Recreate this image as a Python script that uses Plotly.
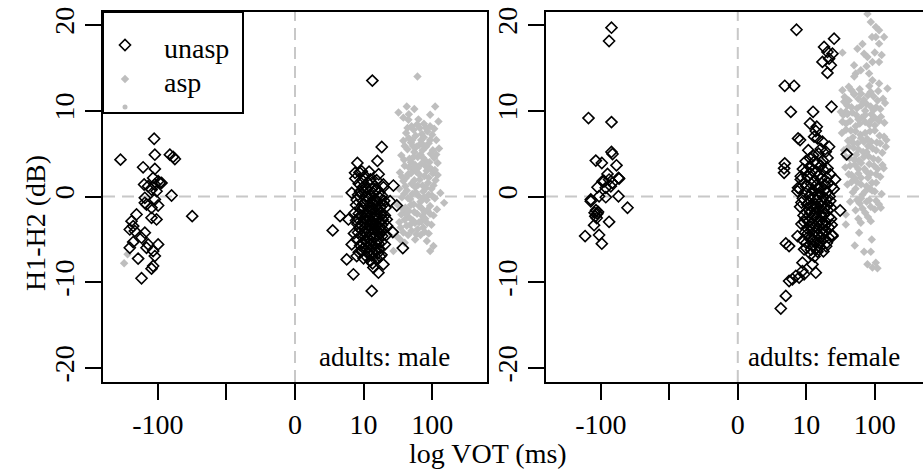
import numpy as np
import plotly.graph_objects as go

# ---------------- data (signed log10 VOT in ms, H1-H2 in dB) ----------------
male_unasp = [
    # prevoiced
    (-2.054, 6.74), (-2.545, 4.30), (-2.044, 4.88), (-1.825, 4.88), (-1.777, 4.62), (-1.752, 4.38),
    (-2.215, 3.41), (-2.044, 3.22), (-2.069, 2.17), (-1.996, 1.78), (-1.946, 1.59), (-2.044, 1.40),
    (-2.142, 1.20), (-2.200, 1.40), (-2.092, 0.81), (-2.019, 0.62), (-1.800, 0.12), (-2.190, -0.15),
    (-2.044, -0.35), (-2.165, -0.93), (-1.996, -1.05), (-2.092, -1.31), (-2.311, -2.09), (-2.092, -2.48),
    (-2.019, -2.67), (-1.499, -2.29), (-2.384, -2.87), (-2.360, -3.45), (-2.409, -3.84), (-2.336, -4.03),
    (-2.190, -4.22), (-2.238, -4.80), (-2.360, -5.31), (-2.142, -5.58), (-1.996, -5.58), (-2.409, -5.97),
    (-2.165, -5.97), (-2.069, -6.36), (-2.044, -6.94), (-2.288, -7.24), (-2.069, -8.10), (-2.092, -8.41),
    (-2.238, -9.53), (-1.971, 1.59), (-2.190, -0.73),
    # short lag
    (1.128, 13.52), (1.265, 5.78), (1.202, 4.15), (0.910, 3.92), (0.876, 2.76), (0.973, 2.94),
    (0.657, -2.29), (0.550, -3.95), (1.289, 1.40), (1.435, 1.28), (1.484, -1.05), (1.426, -4.15),
    (1.572, -6.01), (0.754, -7.33), (0.852, -9.07), (1.119, -11.01), (1.217, -8.88), (1.289, -7.91),
    (1.143, -8.29), (0.900, -6.94), (0.827, -5.58), (0.779, -2.67), (0.827, 0.43), (1.338, -2.67),
    (1.387, -0.54),
    (0.88, 2.1), (0.93, 1.5), (1.02, 2.4), (1.10, 2.0), (1.16, 1.2), (1.22, 2.6), (1.05, 0.9),
    (0.97, 0.3), (0.90, -0.4), (1.00, -0.8), (1.08, -0.2), (1.14, 0.4), (1.20, -0.6), (1.27, 0.1),
    (1.32, -1.3), (1.25, -1.8), (1.18, -1.1), (1.11, -1.6), (1.03, -1.9), (0.95, -1.4), (0.87, -1.9),
    (0.92, -2.6), (0.99, -3.0), (1.06, -2.5), (1.13, -2.9), (1.19, -2.3), (1.28, -2.7), (1.34, -3.4),
    (1.24, -3.6), (1.16, -3.9), (1.09, -3.4), (1.01, -4.1), (0.94, -3.7), (0.86, -4.3), (0.90, -5.0),
    (0.98, -5.4), (1.05, -4.8), (1.12, -4.5), (1.20, -5.1), (1.27, -4.6), (1.31, -5.6), (1.23, -6.1),
    (1.15, -5.8), (1.08, -6.3), (1.00, -6.0), (0.93, -6.5), (1.04, -7.0), (1.12, -6.9), (1.19, -7.2),
    (1.26, -6.8), (1.07, -1.2), (1.10, -2.2), (1.15, -3.3), (1.02, -3.6), (0.96, -2.2), (1.21, -4.0),
    (1.17, 0.8), (1.06, 1.6), (0.99, 1.1), (1.13, -0.9), (1.24, -0.2), (1.04, -5.3), (1.11, -5.2),
    (0.97, -4.6), (1.29, -3.9), (1.09, 0.2), (1.18, -2.0), (0.91, -3.2), (1.01, -2.5), (1.14, -6.5),
    (1.22, -5.5), (1.07, -4.0), (1.16, -4.8), (1.25, -1.2), (0.95, 0.6), (1.03, 0.0), (1.12, 1.6),
    (1.26, -2.2), (0.89, -1.0), (1.30, -0.5),
    (0.94, 2.8), (1.08, 2.9), (1.19, 1.9), (1.29, 1.1), (0.98, 1.9), (1.12, 0.9), (1.23, 0.5),
    (0.92, 0.2), (1.01, 0.5), (1.17, -0.3), (1.29, -0.9), (0.99, -1.3), (1.15, -1.5), (1.22, -1.5),
    (0.93, -2.0), (1.05, -2.9), (1.16, -2.6), (1.23, -2.9), (1.31, -2.2), (0.89, -2.8), (0.96, -3.3),
    (1.12, -3.8), (1.19, -3.4), (1.27, -3.3), (0.92, -4.2), (1.04, -4.4), (1.14, -4.2), (1.24, -4.4),
    (1.33, -4.5), (0.95, -5.7), (1.02, -5.1), (1.09, -5.6), (1.18, -5.5), (1.26, -5.3), (0.97, -6.4),
    (1.06, -6.6), (1.17, -6.2), (1.24, -7.0), (1.10, -7.5), (1.00, -7.2), (1.21, -6.6), (1.13, -7.8),
    (1.07, -5.9), (1.11, -3.0), (1.04, -2.2), (1.20, -2.6), (1.08, -1.7), (1.15, -0.5), (1.05, -0.5),
    (1.26, -4.0),
]

male_asp = [
    (-2.442, -6.74), (-2.492, -7.79),
    (1.786, 14.0), (1.509, 9.8), (1.630, 10.5), (2.044, 10.5), (1.654, 8.95), (1.971, 9.53),
    (2.092, 8.76), (2.175, -0.74), (1.435, -6.36), (1.533, -5.0), (1.752, -5.0), (1.923, -5.19),
    (2.019, -5.78), (1.971, -6.36),
    (1.70, 8.2), (1.82, 8.0), (1.93, 7.6), (1.62, 7.4), (1.76, 7.1), (1.88, 6.9), (2.00, 7.2),
    (1.58, 6.5), (1.69, 6.3), (1.81, 6.0), (1.95, 6.2), (2.06, 6.6), (1.64, 5.5), (1.74, 5.2),
    (1.86, 5.4), (1.98, 5.0), (2.10, 5.6), (1.55, 4.8), (1.67, 4.4), (1.79, 4.6), (1.90, 4.2),
    (2.03, 4.5), (1.60, 3.6), (1.72, 3.3), (1.84, 3.8), (1.96, 3.4), (2.08, 3.9), (1.53, 2.8),
    (1.65, 2.6), (1.77, 2.9), (1.89, 2.4), (2.01, 2.7), (1.58, 1.8), (1.70, 1.5), (1.82, 2.0),
    (1.94, 1.6), (2.05, 1.9), (1.52, 0.9), (1.63, 0.7), (1.75, 1.1), (1.87, 0.6), (1.99, 0.9),
    (2.12, 0.4), (1.56, -0.1), (1.68, -0.3), (1.80, 0.1), (1.92, -0.4), (2.04, -0.2), (1.50, -1.0),
    (1.61, -1.3), (1.73, -0.9), (1.85, -1.4), (1.97, -1.1), (1.55, -2.1), (1.66, -2.4), (1.78, -2.0),
    (1.90, -2.6), (2.02, -2.2), (1.52, -3.0), (1.63, -3.4), (1.75, -3.1), (1.87, -3.6), (1.99, -3.3),
    (1.58, -4.2), (1.70, -4.0), (1.83, -4.5), (1.95, -4.3), (1.48, -4.6), (1.73, 7.8), (1.85, 7.3),
    (1.66, 6.8), (1.91, 5.8), (1.77, 5.8), (1.69, 4.0), (1.83, 4.9), (1.75, 3.7), (1.92, 3.0),
    (1.62, 2.2), (1.86, 1.3), (1.71, 0.3), (1.95, 0.2), (1.83, -0.6), (1.66, -1.7), (1.89, -1.8),
    (1.72, -2.8), (1.84, -2.9), (1.60, -2.7), (1.79, -3.8), (2.07, -1.5), (2.00, 3.1), (1.80, 9.0),
    (1.88, 8.5), (1.58, 9.2), (1.74, 10.2), (1.97, 8.2), (1.66, 9.6), (2.03, 7.9),
    (1.64, 8.0), (1.78, 8.4), (1.91, 8.0), (1.71, 6.6), (1.84, 6.6), (1.97, 6.6), (1.60, 5.9),
    (1.72, 5.9), (1.86, 6.1), (2.01, 5.4), (1.59, 4.3), (1.73, 4.6), (1.87, 4.5), (1.96, 4.0),
    (2.06, 4.9), (1.66, 3.4), (1.79, 3.3), (1.90, 3.6), (2.04, 3.1), (1.56, 2.3), (1.69, 2.7),
    (1.81, 2.6), (1.95, 2.2), (2.08, 2.5), (1.61, 1.2), (1.74, 1.9), (1.79, 1.3), (1.91, 1.0),
    (2.02, 1.3), (1.59, 0.3), (1.65, -0.2), (1.76, 0.5), (1.88, -0.1), (2.00, 0.1), (1.58, -1.5),
    (1.69, -1.0), (1.81, -1.1), (1.93, -1.6), (1.62, -2.0), (1.74, -1.8), (1.86, -2.3), (1.97, -2.0),
    (1.68, -3.3), (1.81, -3.0), (1.93, -3.1), (1.65, -4.5), (1.77, -4.4), (1.89, -4.1), (1.54, -3.6),
    (1.60, -5.4),
]

female_unasp = [
    # prevoiced
    (-1.844, 19.69), (-1.879, 18.14), (-2.180, 9.15), (-1.844, 8.68), (-1.844, 5.20), (-1.829, 4.96),
    (-2.073, 4.19), (-1.985, 3.91), (-1.771, 3.64), (-1.902, 2.64), (-1.975, 1.78), (-1.879, 1.98),
    (-1.742, 2.17), (-2.048, 1.08), (-1.927, 1.01), (-1.854, 1.20), (-2.146, -0.35), (-2.025, 0.03),
    (-1.927, -0.08), (-1.742, 0.03), (-1.610, -1.31), (-2.07, -1.6), (-2.05, -2.0), (-2.08, -2.3),
    (-2.04, -1.8), (-2.06, -2.5), (-2.09, -1.9), (-2.098, -3.34), (-1.879, -2.95), (-2.229, -4.61),
    (-2.025, -4.49), (-1.985, -5.50), (-1.733, 2.09), (-1.951, 1.78), (-1.829, 1.59), (-2.146, -0.55),
    # short lag
    (0.857, 19.45), (1.406, 18.41), (1.260, 17.44), (1.309, 16.86), (1.382, 16.66), (1.333, 16.08),
    (1.236, 15.70), (1.358, 15.31), (1.309, 14.42), (0.686, 12.91), (0.822, 12.91), (1.368, 10.47),
    (0.774, 9.88), (1.099, 9.88), (1.055, 8.52), (1.153, 8.14), (1.139, 7.64), (1.114, 6.98),
    (1.163, 6.78), (0.880, 6.78), (0.909, 6.59), (1.236, 6.40), (1.212, 5.55), (1.333, 5.81),
    (1.285, 5.23), (1.591, 4.92), (1.055, 4.45), (1.114, 4.07), (1.212, 3.60), (1.309, 3.29),
    (0.686, 3.87), (0.676, 3.29), (0.676, 2.76), (0.920, 2.36), (0.880, 1.01), (0.872, 0.62),
    (1.494, -1.63), (1.382, -4.61), (0.701, -5.47), (0.749, -5.78), (0.872, -4.61), (0.968, -6.16),
    (1.066, -6.74), (1.163, -6.43), (0.944, -7.71), (1.090, -7.91), (1.139, -8.88), (0.944, -8.69),
    (0.749, -9.85), (0.798, -9.65), (0.847, -9.27), (0.895, -9.45), (0.968, -9.07), (0.701, -11.59),
    (0.628, -13.06),
    (0.95, 3.2), (1.05, 3.5), (1.15, 2.9), (1.25, 3.1), (1.35, 2.6), (0.92, 2.0), (1.02, 2.3),
    (1.12, 1.8), (1.22, 2.1), (1.32, 1.6), (1.42, 2.0), (0.90, 0.9), (1.00, 1.2), (1.10, 0.7),
    (1.20, 1.0), (1.30, 0.5), (1.40, 0.9), (0.95, -0.2), (1.05, 0.1), (1.15, -0.4), (1.25, -0.1),
    (1.35, -0.5), (0.91, -1.2), (1.01, -0.9), (1.11, -1.4), (1.21, -1.1), (1.31, -1.6), (0.96, -2.2),
    (1.06, -1.9), (1.16, -2.4), (1.26, -2.1), (1.36, -2.6), (0.93, -3.2), (1.03, -2.9), (1.13, -3.4),
    (1.23, -3.1), (1.33, -3.6), (0.98, -4.2), (1.08, -3.9), (1.18, -4.4), (1.28, -4.1), (1.38, -4.5),
    (0.95, -5.1), (1.05, -4.9), (1.15, -5.3), (1.25, -5.0), (1.10, -5.8), (1.20, -5.9), (1.08, 0.3),
    (1.13, -0.9), (1.09, -2.6), (1.18, -1.7), (1.07, -3.5), (1.14, 1.3), (1.04, -1.5), (1.19, -3.0),
    (1.12, -4.6), (1.02, -4.3), (1.22, -0.6), (1.17, 2.4), (1.28, -2.9), (1.06, 2.7), (0.99, -2.6),
    (1.24, -3.8), (1.10, -1.0), (1.16, 0.2), (1.27, 1.4), (1.01, -3.7), (1.11, -2.2), (1.31, -1.0),
    (1.20, -4.8), (1.34, 0.0), (1.09, 3.0), (1.00, -6.0), (1.30, -5.4),
    (1.00, 3.0), (1.20, 2.6), (1.30, 2.2), (0.97, 1.6), (1.07, 1.5), (1.17, 1.0), (1.27, 0.8),
    (1.37, 1.2), (0.99, 0.4), (1.12, -0.1), (1.21, 0.3), (1.29, -0.3), (0.93, -0.7), (1.06, -1.1),
    (1.16, -1.2), (1.26, -1.4), (1.36, -1.3), (1.00, -1.8), (1.13, -1.9), (1.23, -2.3), (1.33, -2.4),
    (0.97, -3.0), (1.08, -3.1), (1.17, -3.7), (1.27, -3.4), (1.37, -3.3), (1.04, -4.6), (1.14, -4.0),
    (1.23, -4.3), (1.33, -4.8), (1.00, -5.4), (1.10, -5.1), (1.19, -5.4), (1.29, -5.8), (1.07, -6.2),
    (1.15, -6.0), (1.25, -6.4), (1.12, -7.0), (1.03, 5.4), (1.18, 5.0), (1.24, 4.2), (1.10, 4.8),
    (1.31, 4.5), (0.99, 4.1), (1.16, 3.9),
]

female_asp = [
    (1.577, -3.26), (1.708, -5.70), (1.771, -4.22), (1.796, -3.06), (1.942, -2.87), (1.956, -5.0),
    (1.844, -6.43), (1.942, -6.43), (1.893, -7.91), (2.015, -7.71), (2.039, -8.37), (1.966, -8.29),
    (2.088, -1.31), (1.577, -2.09),
    (1.893, 21.3), (1.942, 20.35), (2.015, 19.77), (2.063, 19.38), (2.136, 18.6), (2.015, 18.6),
    (2.063, 17.83), (1.747, 17.24), (1.844, 16.66), (1.893, 16.28), (1.966, 15.70), (2.063, 15.70),
    (1.528, 16.78), (1.698, 15.31), (1.796, 14.73), (1.723, 14.34), (1.917, 14.34), (1.966, 13.57),
    (2.063, 13.17), (1.528, 12.4), (1.552, 11.05), (1.577, 9.88), (1.528, 8.72), (1.504, 9.88),
    (2.136, 6.98), (2.161, 5.81), (2.112, 3.69), (2.185, 12.6),
    (1.62, 12.8), (1.78, 12.5), (1.92, 12.9), (2.05, 12.3), (1.56, 11.6), (1.70, 11.9), (1.84, 11.3),
    (1.98, 11.7), (2.12, 11.4), (1.60, 10.6), (1.74, 10.3), (1.88, 10.8), (2.02, 10.4), (2.15, 10.9),
    (1.54, 9.5), (1.67, 9.8), (1.81, 9.2), (1.95, 9.6), (2.09, 9.3), (1.58, 8.5), (1.72, 8.2),
    (1.86, 8.7), (2.00, 8.3), (2.14, 8.6), (1.52, 7.4), (1.65, 7.7), (1.79, 7.2), (1.93, 7.6),
    (2.07, 7.1), (1.61, 6.5), (1.75, 6.2), (1.89, 6.7), (2.03, 6.3), (2.17, 6.6), (1.55, 5.4),
    (1.69, 5.7), (1.83, 5.2), (1.97, 5.6), (2.11, 5.1), (1.63, 4.5), (1.77, 4.2), (1.91, 4.7),
    (2.05, 4.3), (1.57, 3.4), (1.71, 3.7), (1.85, 3.2), (1.99, 3.6), (2.13, 3.3), (1.66, 2.5),
    (1.80, 2.2), (1.94, 2.7), (2.08, 2.3), (1.60, 1.4), (1.74, 1.7), (1.88, 1.2), (2.02, 1.6),
    (1.68, 0.5), (1.82, 0.2), (1.96, 0.7), (2.10, 0.3), (1.64, -0.6), (1.78, -0.8), (1.92, -0.4),
    (2.06, -0.9), (1.72, -1.6), (1.86, -1.9), (2.00, -1.5), (1.76, -2.6), (1.90, -2.4),
    (1.70, 12.0), (1.86, 10.0), (1.76, 9.0), (1.90, 5.9), (1.73, 4.9), (1.84, 6.4), (1.80, 3.9),
    (1.95, 8.9), (1.68, 6.9), (1.98, 10.1), (1.83, 11.0), (1.88, 2.9), (1.71, 2.1), (1.93, 0.9),
    (1.80, -0.2),
    (1.66, 12.4), (1.80, 12.0), (1.94, 12.2), (1.62, 11.2), (1.76, 11.4), (1.90, 11.8), (2.04, 11.2),
    (1.66, 10.4), (1.80, 10.6), (1.94, 10.5), (2.08, 10.2), (1.60, 9.6), (1.73, 9.5), (1.86, 9.5),
    (2.00, 9.2), (1.64, 8.8), (1.78, 8.5), (1.92, 8.4), (2.06, 8.8), (1.58, 7.8), (1.72, 7.6),
    (1.86, 7.4), (2.00, 7.7), (1.68, 6.3), (1.80, 6.8), (1.95, 6.4), (2.08, 6.2), (1.62, 5.8),
    (1.76, 5.5), (1.88, 5.2), (2.02, 5.4), (1.58, 4.6), (1.70, 4.3), (1.84, 4.6), (1.98, 4.4),
    (1.64, 3.6), (1.76, 3.2), (1.92, 3.8), (2.04, 3.2), (1.62, 2.6), (1.76, 2.7), (1.90, 2.2),
    (2.02, 2.6), (1.66, 1.7), (1.80, 1.4), (1.96, 1.6), (1.72, 0.9), (1.86, 0.6), (2.00, 0.6),
    (1.74, -0.4), (1.88, -0.6), (2.02, -0.5), (1.82, -1.4), (1.94, -1.2), (1.70, 14.0), (1.88, 15.2),
    (2.00, 16.8), (1.82, 17.8), (1.96, 18.6), (2.10, 16.5),
]

vot_ticks_ms = [-100, -10, 0, 10, 100]
vot_tick_labels = ["-100", "", "0", "10", "100"]
h1h2_ticks = [-20, -10, 0, 10, 20]
h1h2_tick_labels = ["-20", "-10", "0", "10", "20"]
panel_labels = ["adults: male", "adults: female"]
legend_labels = ["unasp", "asp", ""]

# ---------------- helpers ----------------
def slog(v):
    v = np.asarray(v, dtype=float)
    out = np.zeros_like(v)
    nz = v != 0
    out[nz] = np.sign(v[nz]) * np.log10(np.abs(v[nz]))
    return out

def unzip(pairs):
    xs, ys = zip(*pairs)
    return list(xs), list(ys)

FONT = "Liberation Serif, Times New Roman, serif"
GRAY = "#BEBEBE"
W, H = 923, 475

unasp_marker = dict(symbol="diamond-open", size=8.5, color="black", line=dict(width=1.6, color="black"))
asp_marker = dict(symbol="diamond", size=6.5, color=GRAY, line=dict(width=0))
dot_marker = dict(symbol="circle", size=5, color=GRAY, line=dict(width=0))

fig = go.Figure()
for xa, ya, unasp, asp in [("x", "y", male_unasp, male_asp), ("x2", "y2", female_unasp, female_asp)]:
    ax, ay = unzip(asp)
    fig.add_trace(go.Scatter(x=ax, y=ay, xaxis=xa, yaxis=ya, mode="markers", name="asp",
                             marker=asp_marker, showlegend=False, hoverinfo="skip"))
    ux, uy = unzip(unasp)
    fig.add_trace(go.Scatter(x=ux, y=uy, xaxis=xa, yaxis=ya, mode="markers", name="unasp",
                             marker=unasp_marker, showlegend=False, hoverinfo="skip"))

# ---------------- legend (drawn as a key box in the top-left corner) ----------------
LEG_L, LEG_T, LEG_R, LEG_B = 103, 12, 243, 113
leg_rows = [33, 67, 95]          # row centres, px from legend top
leg_markers = [unasp_marker, asp_marker, dot_marker]
for i, lab in enumerate(legend_labels):
    fig.add_trace(go.Scatter(x=[22], y=[leg_rows[i]], xaxis="x3", yaxis="y3", mode="markers",
                             marker=leg_markers[i], showlegend=False, hoverinfo="skip"))
    if lab:
        fig.add_annotation(text=lab, xref="x3", yref="y3", x=59, y=leg_rows[i] + 3,
                           xanchor="left", yanchor="middle", showarrow=False,
                           font=dict(family=FONT, size=28, color="black"))
fig.add_shape(type="rect", xref="paper", yref="paper", x0=LEG_L / W, x1=LEG_R / W,
              y0=1 - LEG_B / H, y1=1 - LEG_T / H, line=dict(color="black", width=2),
              fillcolor="rgba(0,0,0,0)", layer="above")

tickvals = slog(vot_ticks_ms)
axis_common = dict(showline=True, linecolor="black", linewidth=2, ticks="outside", ticklen=16,
                   tickwidth=2, tickcolor="black", showgrid=False, zeroline=False,
                   tickfont=dict(family=FONT, size=28, color="black"))
ydom = [1 - 382 / H, 1 - 12 / H]
yrange = [-21.63, 21.52]

fig.update_layout(
    width=W, height=H, margin=dict(l=0, r=0, t=0, b=0, autoexpand=False),
    paper_bgcolor="white", plot_bgcolor="white", showlegend=False,
    font=dict(family=FONT, size=28, color="black"),
    xaxis=dict(domain=[103 / W, 487 / W], range=[-2.8, 2.8], tickvals=tickvals,
               ticktext=vot_tick_labels, mirror=True, anchor="y", **axis_common),
    yaxis=dict(domain=ydom, range=yrange, tickvals=h1h2_ticks, ticktext=h1h2_tick_labels,
               tickangle=-90, mirror=True, anchor="x", **axis_common),
    xaxis2=dict(domain=[546 / W, 1.0], range=[-2.8, 2.704], tickvals=tickvals,
                ticktext=vot_tick_labels, mirror=True, anchor="y2", **axis_common),
    yaxis2=dict(domain=ydom, range=yrange, tickvals=h1h2_ticks, ticktext=h1h2_tick_labels,
                tickangle=-90, mirror=False, anchor="x2", **axis_common),
    xaxis3=dict(domain=[LEG_L / W, LEG_R / W], range=[0, LEG_R - LEG_L], visible=False,
                anchor="y3", fixedrange=True),
    yaxis3=dict(domain=[1 - LEG_B / H, 1 - LEG_T / H], range=[LEG_B - LEG_T, 0], visible=False,
                anchor="x3", fixedrange=True),
)

dash = dict(color="#C8C8C8", width=2, dash="12px,7px")
for xa, ya in [("x", "y"), ("x2", "y2")]:
    fig.add_shape(type="line", xref=xa, yref=ya + " domain", x0=0, x1=0, y0=0, y1=1,
                  line=dash, layer="below")
    fig.add_shape(type="line", xref=xa + " domain", yref=ya, x0=0, x1=1, y0=0, y1=0,
                  line=dash, layer="below")

txt = dict(showarrow=False, xref="paper", yref="paper", xanchor="center", yanchor="middle")
fig.add_annotation(text=panel_labels[0], x=384 / W, y=1 - 357 / H,
                   font=dict(family=FONT, size=27, color="black"), **txt)
fig.add_annotation(text=panel_labels[1], x=824 / W, y=1 - 357 / H,
                   font=dict(family=FONT, size=27, color="black"), **txt)
fig.add_annotation(text="H1-H2 (dB)", x=36 / W, y=1 - 223 / H, textangle=-90,
                   font=dict(family=FONT, size=28, color="black"), **txt)
fig.add_annotation(text="log VOT (ms)", x=488 / W, y=1 - 453 / H,
                   font=dict(family=FONT, size=28, color="black"), **txt)

fig.write_html("out.html")
